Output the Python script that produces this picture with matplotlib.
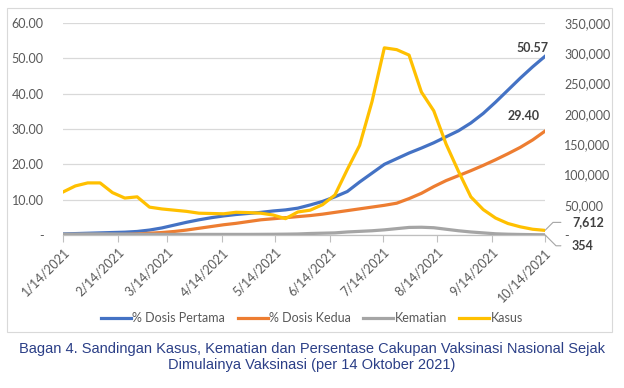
import matplotlib
matplotlib.use("Agg")
import matplotlib.pyplot as plt
import matplotlib.dates as mdates
from matplotlib.ticker import FuncFormatter, FixedLocator
from matplotlib.patches import Rectangle
import numpy as np
import pandas as pd

# ---------------- data ----------------
dates = pd.date_range("2021-01-14", periods=40, freq="7D")

dosis_pertama = [0.3, 0.4, 0.5, 0.6, 0.7, 0.8, 1.0, 1.4, 2.0, 2.8,
                 3.6, 4.3, 4.9, 5.4, 5.8, 6.1, 6.4, 6.8, 7.1, 7.6,
                 8.5, 9.5, 10.8, 12.3, 15.0, 17.5, 20.0, 21.6, 23.2, 24.6,
                 26.1, 27.8, 29.5, 31.7, 34.4, 37.6, 41.0, 44.4, 47.6, 50.57]

dosis_kedua = [0.0, 0.0, 0.0, 0.05, 0.1, 0.15, 0.3, 0.5, 0.7, 1.0,
               1.4, 1.9, 2.4, 2.9, 3.3, 3.8, 4.3, 4.6, 4.9, 5.2,
               5.5, 5.9, 6.4, 6.9, 7.4, 7.9, 8.4, 9.0, 10.3, 11.8,
               13.7, 15.4, 16.8, 18.2, 19.7, 21.3, 23.0, 24.8, 26.9, 29.4]

kematian = [1500, 1600, 1800, 1800, 1700, 1500, 1300, 1200, 1100, 1000,
            1000, 1000, 1000, 1000, 1000, 1000, 1100, 1200, 1400, 1700,
            2500, 3000, 3500, 5000, 6000, 7000, 8500, 10500, 12500, 12800,
            12000, 9500, 7000, 5000, 3500, 2000, 1300, 900, 600, 354]

kasus = [71000, 81000, 86000, 86000, 70000, 61000, 63000, 46000, 43000, 41000,
         39000, 36000, 35500, 35000, 37500, 37000, 36000, 33000, 27000, 38000,
         41000, 50000, 66000, 108000, 148000, 220000, 309000, 306000, 297000, 236000,
         205000, 150000, 105000, 63000, 42000, 28000, 19000, 13500, 9500, 7612]

month_ticks = pd.to_datetime(["2021-01-14", "2021-02-14", "2021-03-14", "2021-04-14",
                              "2021-05-14", "2021-06-14", "2021-07-14", "2021-08-14",
                              "2021-09-14", "2021-10-14"])
tick_labels = ["1/14/2021", "2/14/2021", "3/14/2021", "4/14/2021", "5/14/2021",
               "6/14/2021", "7/14/2021", "8/14/2021", "9/14/2021", "10/14/2021"]

series_names = ["% Dosis Pertama", "% Dosis Kedua", "Kematian", "Kasus"]
caption = ("Bagan 4. Sandingan Kasus, Kematian dan Persentase Cakupan Vaksinasi Nasional Sejak\n"
           "Dimulainya Vaksinasi (per 14 Oktober 2021)")

# ---------------- style ----------------
BLUE, ORANGE, GRAY, YELLOW = "#4472C4", "#ED7D31", "#A5A5A5", "#FFC000"
TXT = "#595959"
plt.rcParams["font.family"] = ["Lato", "DejaVu Sans"]

W, H = 624, 388
fig = plt.figure(figsize=(W / 100, H / 100), dpi=100)

x0, x1, yb, yt = 63, 545, 235, 23
ax = fig.add_axes([x0 / W, 1 - yb / H, (x1 - x0) / W, (yb - yt) / H])
ax2 = ax.twinx()

lw = 2.3
l1, = ax.plot(dates, dosis_pertama, color=BLUE, lw=lw, label=series_names[0], zorder=3)
l2, = ax.plot(dates, dosis_kedua, color=ORANGE, lw=lw, label=series_names[1], zorder=3)
l3, = ax2.plot(dates, kematian, color=GRAY, lw=lw, label=series_names[2], zorder=3)
l4, = ax2.plot(dates, kasus, color=YELLOW, lw=lw, label=series_names[3], zorder=4)

ax.set_ylim(0, 60)
ax2.set_ylim(0, 350000)
ax.set_xlim(dates[0], dates[-1])

ax.set_yticks(np.arange(0, 61, 10))
ax2.set_yticks(np.arange(0, 350001, 50000))
ax.yaxis.set_major_formatter(FuncFormatter(lambda v, p: "-" if v == 0 else f"{v:.2f}"))
ax2.yaxis.set_major_formatter(FuncFormatter(lambda v, p: "-" if v == 0 else f"{v:,.0f}"))

ax.xaxis.set_major_locator(FixedLocator(mdates.date2num(month_ticks)))
ax.set_xticklabels(tick_labels, rotation=45, ha="right", va="top", rotation_mode="anchor")

ax.grid(axis="y", color="#D9D9D9", lw=0.9)
ax.set_axisbelow(True)
for a in (ax, ax2):
    for s in a.spines.values():
        s.set_visible(False)
ax.spines["bottom"].set_visible(True)
ax.spines["bottom"].set_color("#BFBFBF")
ax.spines["bottom"].set_linewidth(0.9)

ax.tick_params(axis="y", length=0, labelsize=9, labelcolor=TXT, pad=14)
ax2.tick_params(axis="y", length=0, labelsize=9, labelcolor=TXT, pad=14)
ax.tick_params(axis="x", length=5, color="#BFBFBF", labelsize=9, labelcolor=TXT, pad=3)
for t in ax2.get_yticklabels():
    t.set_ha("left")

# data labels
ax.annotate(f"{dosis_pertama[-1]:.2f}", xy=(dates[-1], dosis_pertama[-1]),
            xytext=(-13, 2), textcoords="offset pixels", ha="center", va="bottom",
            fontsize=9, fontweight="bold", color="#404040")
ax.annotate(f"{dosis_kedua[-1]:.2f}", xy=(dates[-1], dosis_kedua[-1]),
            xytext=(-21, 9), textcoords="offset pixels", ha="center", va="bottom",
            fontsize=9, fontweight="bold", color="#404040")
ax2.annotate(f"{kasus[-1]:,}", xy=(dates[-1], kasus[-1]),
             xytext=(27, 8), textcoords="offset pixels", ha="left", va="center",
             fontsize=9, fontweight="bold", color="#404040", annotation_clip=False,
             arrowprops=dict(arrowstyle="-", color="#A5A5A5", lw=0.8, shrinkA=6, shrinkB=0,
                             relpos=(0, 0.5),
                             connectionstyle="angle,angleA=0,angleB=45,rad=0"))
ax2.annotate(f"{kematian[-1]:,}", xy=(dates[-1], kematian[-1]),
             xytext=(27, -11), textcoords="offset pixels", ha="left", va="center",
             fontsize=9, fontweight="bold", color="#404040", annotation_clip=False,
             arrowprops=dict(arrowstyle="-", color="#A5A5A5", lw=0.8, shrinkA=6, shrinkB=0,
                             relpos=(0, 0.5),
                             connectionstyle="angle,angleA=0,angleB=-45,rad=0"))

# legend
leg = fig.legend(handles=[l1, l2, l3, l4], loc="center", bbox_to_anchor=(0.5, 1 - 318 / H),
                 ncol=4, frameon=False, fontsize=9, handlelength=2.4, handletextpad=0.1,
                 columnspacing=1.0)
for t in leg.get_texts():
    t.set_color(TXT)

# border
fig.patches.append(Rectangle((7 / W, 1 - 332 / H), (612 - 7) / W, (332 - 8) / H,
                             transform=fig.transFigure, fill=False,
                             edgecolor="#D9D9D9", lw=0.8))

# caption
fig.text(0.5, 1 - 357 / H, caption, ha="center", va="center", fontsize=10.5,
         color="#2B3F87", family=["Liberation Sans", "DejaVu Sans"], linespacing=1.15)

fig.savefig("out.png", dpi=100)
